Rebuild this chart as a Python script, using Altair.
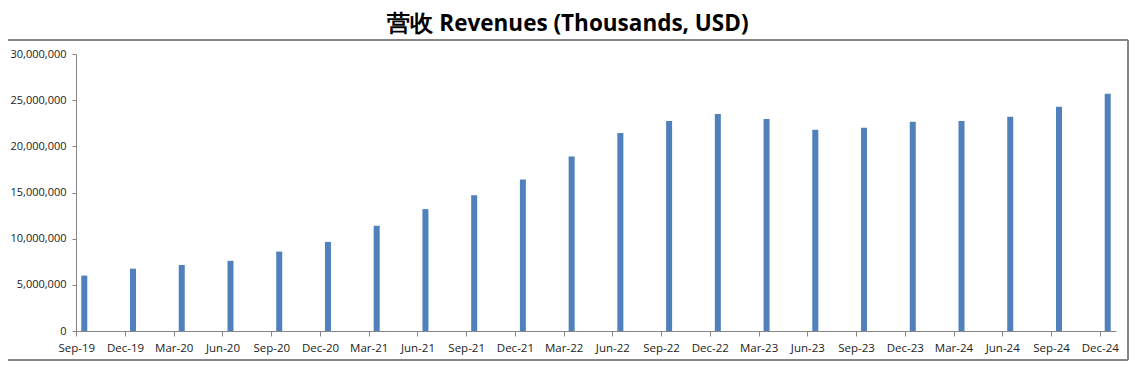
import altair as alt
import pandas as pd

quarters = ["Sep-19", "Dec-19", "Mar-20", "Jun-20", "Sep-20", "Dec-20", "Mar-21", "Jun-21",
            "Sep-21", "Dec-21", "Mar-22", "Jun-22", "Sep-22", "Dec-22", "Mar-23", "Jun-23",
            "Sep-23", "Dec-23", "Mar-24", "Jun-24", "Sep-24", "Dec-24"]
revenues = [6000000, 6750000, 7150000, 7600000, 8600000, 9650000, 11400000, 13200000,
            14700000, 16400000, 18900000, 21450000, 22750000, 23500000, 22950000, 21800000,
            22000000, 22650000, 22750000, 23200000, 24300000, 25700000]
y_ticks = [0, 5000000, 10000000, 15000000, 20000000, 25000000, 30000000]

df = pd.DataFrame({"quarter": quarters, "revenue": revenues})

FONT = "Open Sans"
AXIS_GRAY = "#868686"

bars = alt.Chart(df).mark_bar(size=6, color="#4F81BD").encode(
    x=alt.X("quarter:N", sort=quarters,
            scale=alt.Scale(paddingInner=0.66, paddingOuter=0.0),
            axis=alt.Axis(title=None, labelAngle=0, tickSize=5, tickOffset=-8,
                          labelPadding=6, labelFontSize=11.5, labelColor="#222222",
                          labelFont=FONT, domainColor=AXIS_GRAY, tickColor=AXIS_GRAY)),
    y=alt.Y("revenue:Q", scale=alt.Scale(domain=[0, 30000000], nice=False),
            axis=alt.Axis(title=None, values=y_ticks, format=",d", grid=False,
                          tickSize=4, labelPadding=6, labelFontSize=11,
                          labelColor="#222222", labelFont=FONT,
                          domainColor=AXIS_GRAY, tickColor=AXIS_GRAY)),
)

frame_top = alt.Chart(df).mark_rule(stroke=AXIS_GRAY, strokeWidth=1).encode(
    x=alt.value(-68), x2=alt.value(1052), y=alt.value(-14)
)
frame_right = alt.Chart(df).mark_rule(stroke=AXIS_GRAY, strokeWidth=1).encode(
    x=alt.value(1052), y=alt.value(-14), y2=alt.value(306)
)
frame_bottom = alt.Chart(df).mark_rule(stroke=AXIS_GRAY, strokeWidth=1).encode(
    x=alt.value(-68), x2=alt.value(1052), y=alt.value(306)
)

chart = alt.layer(frame_top, frame_right, frame_bottom, bars).properties(
    width=1040, height=277,
    title=alt.TitleParams("营收 Revenues (Thousands, USD)", font=FONT, fontSize=22.5,
                          fontWeight="bold", color="#000000", anchor="middle", dx=-28),
    autosize=alt.AutoSizeParams(type="none"),
    padding={"left": 68, "top": 46, "right": 13, "bottom": 30},
).configure_view(stroke=None)

chart.save("out.html", embed_options={"renderer": "svg", "actions": False})
